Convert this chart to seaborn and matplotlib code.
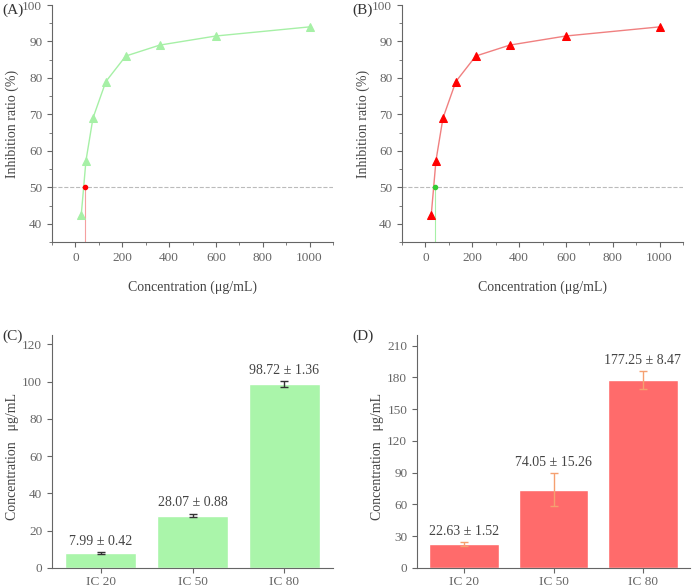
import matplotlib
matplotlib.use("Agg")
import matplotlib.pyplot as plt
import seaborn as sns
import pandas as pd
import numpy as np

conc = [25, 45, 75, 130, 215, 360, 600, 1000]
inhib_a = [42.5, 57.3, 69.0, 79.0, 86.0, 89.0, 91.5, 94.0]
inhib_b = [42.5, 57.3, 69.0, 79.0, 86.0, 89.0, 91.5, 94.0]
ic50_a = 40
ic50_b = 40
ic_labels = ["IC 20", "IC 50", "IC 80"]
ic_c = [7.99, 28.07, 98.72]
ic_c_err = [0.42, 0.88, 1.36]
ic_d = [22.63, 74.05, 177.25]
ic_d_err = [1.52, 15.26, 8.47]

sns.set_style("ticks")
plt.rcParams['font.family'] = ['Liberation Serif', 'DejaVu Serif']
gray = "#666666"
plt.rcParams.update({"xtick.color": gray, "ytick.color": gray, "axes.edgecolor": gray,
                     "axes.labelcolor": "#444444", "font.size": 10,
                     "xtick.labelsize": 9.5, "ytick.labelsize": 9.5})

fig = plt.figure(figsize=(7, 5.88), dpi=100)
W, H = 700, 588
def mk(l, t, r, b):
    return fig.add_axes([l/W, 1-b/H, (r-l)/W, (b-t)/H])

def curve(ax, y, lc, mc, pc, ic, vc):
    ax.axhline(50, color="#bbbbbb", ls="--", lw=0.8)
    ax.plot([ic, ic], [35, 50], color=vc, lw=0.8)
    sns.lineplot(x=conc, y=y, ax=ax, color=lc, lw=1, marker="^", markersize=6,
                 markerfacecolor=mc, markeredgecolor=mc)
    ax.plot([ic], [50], "o", color=pc, ms=3)
    ax.set_xlim(-100, 1100); ax.set_ylim(35, 100)
    ax.set_xticks(range(0, 1001, 200)); ax.set_xticks(range(-100, 1101, 100), minor=True)
    ax.set_yticks(range(40, 101, 10)); ax.set_yticks(range(35, 101, 5), minor=True)
    ax.set_xlabel("Concentration (μg/mL)", labelpad=12)
    ax.set_ylabel("Inhibition ratio (%)", labelpad=2)
    sns.despine(ax=ax)

axA = mk(52, 5, 333, 242)
curve(axA, inhib_a, "#a6f0a6", "#a6f0a6", "red", ic50_a, "#f5a0a0")
axB = mk(402, 5, 683, 242)
curve(axB, inhib_b, "#f08080", "red", "#33cc33", ic50_b, "#a6f0a6")

def bars(ax, vals, errs, col, ecol, ymax, step):
    df = pd.DataFrame({"ic": ic_labels, "v": vals})
    sns.barplot(data=df, x="ic", y="v", ax=ax, color=col, saturation=1, width=0.78)
    ax.errorbar(range(len(vals)), vals, yerr=errs, fmt="none", ecolor=ecol, capsize=3, lw=1)
    for i, (v, e) in enumerate(zip(vals, errs)):
        ax.text(i, v + e + ymax*0.02, f"{v:.2f} ± {e:.2f}", ha="center", va="bottom",
                color="#444444", fontsize=10)
    ax.set_ylim(0, ymax); ax.set_yticks(np.arange(0, ymax+1, step))
    ax.set_xlabel("")
    ax.set_ylabel("Concentration（μg/mL）", labelpad=2)
    ax.tick_params(axis="x", pad=2)
    sns.despine(ax=ax)

axC = mk(52, 335, 333, 568)
bars(axC, ic_c, ic_c_err, "#aaf5aa", "#333333", 125, 20)
axD = mk(417, 335, 690, 568)
bars(axD, ic_d, ic_d_err, "#ff6b6b", "#f5a070", 220, 30)

for lab, (x, y) in zip(["(A)", "(B)", "(C)", "(D)"], [(2, 4), (352, 4), (2, 330), (352, 330)]):
    fig.text(x/W, 1-y/H, lab, va="top", fontsize=11, color="#333333")

fig.savefig("out.png", dpi=100)
